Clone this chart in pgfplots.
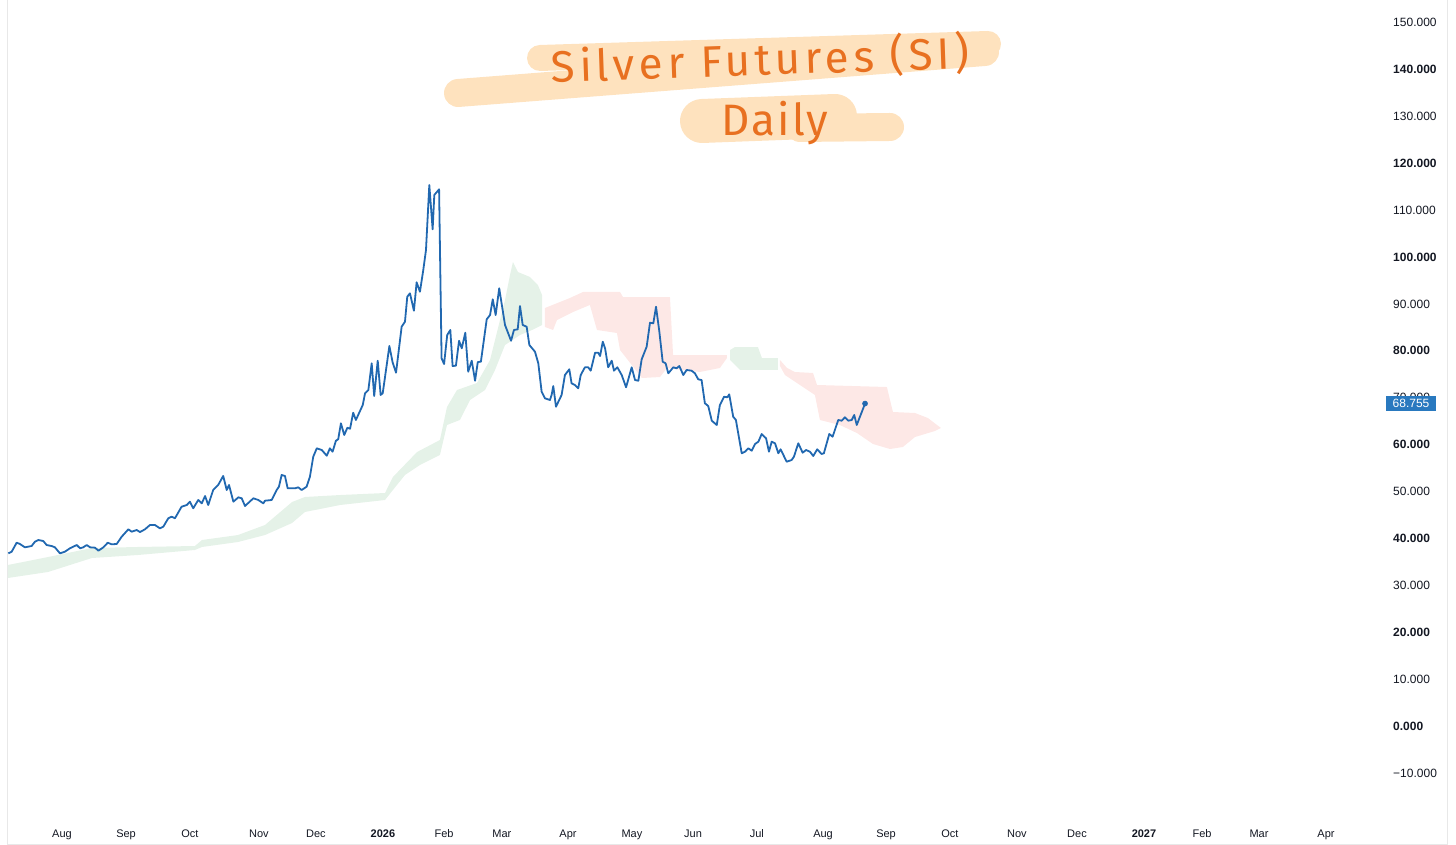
\documentclass[border=0pt]{standalone}
\usepackage{pgfplots}
\pgfplotsset{compat=1.18}
\usepackage{fontspec}
\setmainfont{Liberation Sans}
\newfontfamily\hand[LetterSpace=10]{Fira Sans}
\newfontfamily\handd[LetterSpace=5]{Fira Sans}
\definecolor{lineblue}{RGB}{33,104,176}
\definecolor{cloudgreen}{RGB}{229,242,232}
\definecolor{cloudred}{RGB}{253,232,230}
\definecolor{boxblue}{RGB}{41,121,191}
\definecolor{hiorange}{RGB}{254,226,190}
\definecolor{penorange}{RGB}{232,112,32}
\definecolor{labelgray}{RGB}{19,23,34}
\begin{document}
\begin{tikzpicture}
\useasboundingbox (-8pt,0pt) rectangle (1448pt,845pt);
\begin{axis}[
  scale only axis, width=1439pt, height=845pt, at={(0pt,0pt)}, anchor=south west,
  xmin=-25.96, xmax=665.9, ymin=-25.37, ymax=154.8,
  axis line style={draw={rgb,255:red,232;green,232;blue,232}, line width=1pt},
  major tick length=0pt,
  xtick={0,30.8,61.5,94.7,122.1,154.3,183.7,211.5,243.3,274.0,303.4,334.1,365.9,396.2,426.9,459.1,488.0,520.2,548.1,575.5,607.7},
  xticklabels={Aug,Sep,Oct,Nov,Dec,\textbf{2026},Feb,Mar,Apr,May,Jun,Jul,Aug,Sep,Oct,Nov,Dec,\textbf{2027},Feb,Mar,Apr},
  xticklabel style={anchor=base, yshift=7.3pt, font=\fontsize{11}{13}\selectfont, text=labelgray},
  ytick={-10,0,10,20,30,40,50,60,70,80,90,100,110,120,130,140,150},
  yticklabels={−10.000,\textbf{0.000},10.000,\textbf{20.000},30.000,\textbf{40.000},50.000,\textbf{60.000},70.000,\textbf{80.000},90.000,\textbf{100.000},110.000,\textbf{120.000},130.000,\textbf{140.000},150.000},
  yticklabel pos=right,
  yticklabel style={anchor=west, xshift=-54pt, inner sep=0pt, font=\fontsize{12}{14}\selectfont, text=labelgray},
]
% Ichimoku cloud: green 1
\addplot[draw=none, fill=cloudgreen] coordinates {
(-26.0,34.33) (-6.7,36.03) (14.4,37.95) (36.5,38.17) (63.9,38.38) (67.3,39.66) (84.6,40.72) (97.6,42.86) (110.6,47.76) (116.8,48.83) (133.7,49.25) (155.3,49.68) (159.1,53.09) (170.7,58.42) (181.7,60.98) (185.1,68.02) (189.9,71.64) (199.5,73.13) (205.8,78.04) (210.6,86.57) (213.0,90.83) (215.4,96.16) (216.8,98.93) (219.2,96.80) (225.0,95.74) (228.8,94.03) (230.8,91.90)
(230.8,85.50) (226.0,84.44) (220.2,83.37) (213.0,81.24) (208.2,75.91) (203.4,71.64) (196.2,69.51) (191.3,65.25) (185.1,64.18) (181.7,57.78) (172.1,55.65) (164.9,53.52) (159.1,50.32) (155.3,48.19) (133.7,47.12) (116.8,45.63) (110.6,43.28) (97.6,40.72) (84.6,39.23) (67.3,38.17) (63.9,37.53) (36.5,36.46) (14.4,35.82) (-6.7,32.84) (-26.0,31.56)
} -- cycle;
% red 1
\addplot[draw=none, fill=cloudred] coordinates {
(232.2,89.13) (244.2,91.26) (250.5,92.54) (268.3,92.54) (269.7,91.47) (292.3,91.47) (293.8,79.10) (319.7,79.10)
(319.7,78.46) (316.3,76.33) (306.7,75.48) (290.9,76.33) (287.5,74.41) (278.8,74.20) (268.3,80.17) (266.8,83.80) (257.2,84.44) (253.8,89.77) (245.7,88.27) (238.0,86.57) (236.1,84.44) (232.2,85.07)
} -- cycle;
% green 2
\addplot[draw=none, fill=cloudgreen] coordinates {
(321.2,80.17) (323.6,80.81) (334.6,80.81) (336.5,78.46) (344.2,78.46) (344.2,75.91) (326.0,75.91) (321.2,78.04)
} -- cycle;
% red 2
\addplot[draw=none, fill=cloudred] coordinates {
(345.2,78.04) (348.6,76.33) (352.4,75.48) (361.1,75.27) (363.0,72.71) (396.6,72.28) (399.5,66.95) (410.1,66.74) (416.3,65.67) (422.6,63.54)
(419.7,62.90) (410.1,61.62) (404.3,59.49) (398.1,59.06) (389.9,60.13) (382.2,62.47) (374.0,64.18) (364.4,65.25) (362.0,70.58) (354.8,72.71) (347.6,74.84) (345.2,76.76)
} -- cycle;
% price line
\addplot[color=lineblue, line width=1.8pt, line join=round] coordinates {
(-25.8,36.82) (-24.2,37.16) (-21.8,39.08) (-20.2,38.81) (-17.8,38.10) (-14.6,38.38) (-13.0,39.30) (-11.4,39.66) (-9.0,39.45) (-7.4,38.59) (-5.0,38.38) (-3.4,38.10) (-1.0,36.82) (1.4,37.16) (3.8,37.89) (7.1,38.59) (8.7,37.89) (10.2,38.10) (11.9,38.59) (13.5,38.10) (15.9,38.02) (17.5,37.38) (19.9,38.10) (22.0,39.08) (23.9,38.74) (26.3,38.81) (28.7,40.36) (31.9,41.94) (33.5,41.43) (35.9,41.79) (37.5,41.36) (39.9,41.94) (42.3,42.86) (44.7,42.86) (47.1,42.15) (48.7,42.49) (51.1,44.29) (52.7,44.63) (54.3,44.29) (57.5,46.76) (60.0,47.12) (61.5,47.83) (63.1,46.42) (65.5,48.19) (67.2,47.48) (68.8,49.04) (70.3,47.12) (72.7,50.32) (75.1,51.39) (77.5,53.31) (79.2,50.32) (80.3,51.39) (82.4,47.83) (84.8,48.76) (86.4,48.55) (88.0,46.91) (92.0,48.55) (94.4,48.19) (96.8,47.48) (97.6,48.04) (100.8,48.19) (103.2,50.32) (104.3,51.02) (105.6,53.52) (107.2,53.31) (108.5,50.68) (112.0,50.68) (113.6,50.89) (115.2,50.32) (117.6,51.02) (119.2,53.16) (120.8,57.42) (122.5,59.21) (124.9,58.85) (127.3,57.63) (128.8,59.21) (130.1,58.49) (131.7,60.83) (132.8,61.13) (134.1,64.54) (135.7,62.05) (137.2,63.60) (138.5,63.39) (140.0,66.80) (141.3,65.25) (144.6,68.44) (145.7,70.94) (147.3,71.64) (148.9,77.33) (150.1,70.36) (151.8,77.89) (153.2,70.58) (154.2,70.94) (157.4,81.02) (159.0,77.46) (160.6,75.33) (163.3,85.14) (164.9,86.20) (166.0,91.54) (167.3,92.26) (169.2,88.55) (170.5,94.60) (172.1,92.60) (173.7,97.23) (175.0,101.49) (176.6,115.35) (178.2,105.91) (179.0,113.22) (181.3,114.43) (182.5,78.40) (183.7,77.19) (185.2,83.37) (186.7,84.44) (187.8,76.76) (189.4,76.82) (190.9,82.15) (192.2,80.53) (193.9,83.86) (195.3,75.54) (197.0,77.89) (198.6,73.62) (199.9,77.61) (201.4,77.68) (204.2,86.72) (205.8,87.63) (207.1,90.98) (208.5,87.63) (210.2,93.33) (213.0,85.50) (215.9,82.15) (217.3,84.44) (219.1,84.58) (220.2,89.55) (221.5,85.50) (223.4,85.14) (224.7,81.24) (227.4,79.81) (229.0,77.33) (230.6,71.28) (232.2,69.87) (234.6,69.51) (235.4,70.58) (236.2,72.49) (237.5,68.08) (240.2,70.58) (241.8,74.84) (243.9,76.05) (245.0,73.07) (246.6,72.71) (248.2,72.00) (249.4,74.84) (251.4,76.48) (253.0,76.48) (254.2,75.76) (256.3,79.59) (257.8,79.59) (258.7,78.89) (260.0,81.94) (261.1,80.53) (262.6,76.48) (264.3,77.89) (265.4,75.76) (267.0,76.48) (269.1,74.84) (271.2,72.22) (273.9,76.48) (275.5,73.77) (277.1,73.62) (278.7,78.19) (281.1,80.87) (282.7,85.99) (284.3,85.86) (285.6,89.40) (287.2,84.07) (288.8,77.68) (290.2,77.33) (291.5,75.20) (293.9,76.48) (295.5,76.27) (296.8,76.76) (298.7,74.84) (300.3,75.91) (302.7,75.76) (304.3,75.20) (305.9,73.92) (307.5,73.77) (309.1,68.81) (310.7,68.23) (312.4,65.10) (314.8,64.18) (316.3,68.44) (318.3,70.21) (319.9,70.09) (320.8,70.72) (322.7,65.95) (324.0,65.25) (326.8,58.15) (328.4,58.49) (330.0,59.21) (331.6,58.70) (333.2,60.13) (334.8,60.62) (336.4,62.26) (338.5,61.34) (339.9,58.49) (341.2,60.62) (342.8,60.28) (344.4,58.15) (345.5,59.00) (348.4,56.35) (350.8,56.72) (351.9,57.42) (354.0,60.28) (356.1,58.27) (357.7,58.85) (359.6,58.49) (361.2,57.57) (363.1,59.00) (365.2,58.00) (366.3,58.15) (368.9,62.26) (370.5,61.68) (373.2,65.25) (374.9,65.10) (376.4,65.82) (378.0,65.10) (379.7,65.25) (380.9,66.31) (382.1,64.18) (386.1,68.755)
};
% last price dot
\addplot[only marks, mark=*, mark size=2.6pt, color=lineblue] coordinates {(386.1,68.755)};
% last price label
\node[fill=boxblue, text=white, inner sep=0pt, minimum width=50pt, minimum height=15pt, font=\fontsize{12}{14}\selectfont] at (axis cs:648.6,68.755) {68.755};
\end{axis}
% hand-drawn title highlights (pixel (x,y) -> (x-8, 845-y))
\begin{scope}[line cap=round, draw=hiorange]
\draw[line width=28pt] (450pt,752pt) -- (977pt,793pt);
\draw[line width=26pt] (532pt,787pt) -- (980pt,801pt);
\draw[line width=44pt] (694pt,724pt) -- (827pt,729pt);
\draw[line width=28pt] (792pt,717pt) -- (882pt,718pt);
\end{scope}
\node[rotate=2, text=penorange, font=\hand\fontsize{44}{50}\selectfont] at (752pt,785pt) {Silver Futures (SI)};
\node[text=penorange, font=\handd\fontsize{44}{50}\selectfont] at (767pt,722pt) {Daily};
\end{tikzpicture}
\end{document}
